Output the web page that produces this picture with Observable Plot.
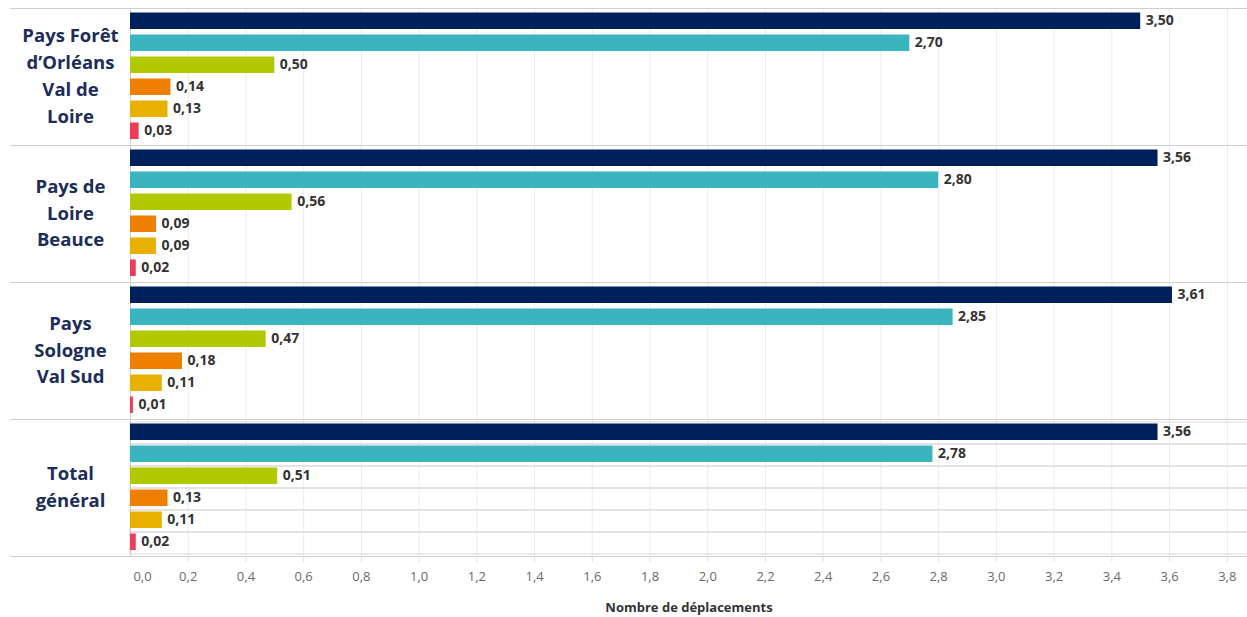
<!DOCTYPE html>
<html>
<head>
<meta charset="utf-8">
<script src="https://cdn.jsdelivr.net/npm/d3@7"></script>
<script src="https://cdn.jsdelivr.net/npm/@observablehq/plot@0.6"></script>
<style>
  body { margin: 0; background: #fff; }
  #chart svg { display: block; }
  g[aria-label="x-axis label"] text { font-weight: bold; fill: #333; }
</style>
</head>
<body>
<div id="chart"></div>
<script>
const groups = ["Pays Forêt d’Orléans Val de Loire", "Pays de Loire Beauce", "Pays Sologne Val Sud", "Total général"];
const groupLabels = ["Pays Forêt\nd’Orléans\nVal de\nLoire", "Pays de\nLoire\nBeauce", "Pays\nSologne\nVal Sud", "Total\ngénéral"];
const series = ["Série 1", "Série 2", "Série 3", "Série 4", "Série 5", "Série 6"];
const seriesColors = ["#00205b", "#3ab4be", "#b2c800", "#ee7f00", "#e8b100", "#ee3e57"];
const valForet = [3.50, 2.70, 0.50, 0.14, 0.13, 0.03];
const valBeauce = [3.56, 2.80, 0.56, 0.09, 0.09, 0.02];
const valSologne = [3.61, 2.85, 0.47, 0.18, 0.11, 0.01];
const valTotal = [3.56, 2.78, 0.51, 0.13, 0.11, 0.02];
const xTicks = [0, 0.2, 0.4, 0.6, 0.8, 1.0, 1.2, 1.4, 1.6, 1.8, 2.0, 2.2, 2.4, 2.6, 2.8, 3.0, 3.2, 3.4, 3.6, 3.8];

const allValues = [valForet, valBeauce, valSologne, valTotal];
const rows = [];
groups.forEach((g, gi) => series.forEach((s, si) => rows.push({group: g, series: s, value: allValues[gi][si]})));
const totalRows = rows.filter(d => d.group === "Total général");
const labelOf = new Map(groups.map((g, i) => [g, groupLabels[i]]));

const fmt1 = d => d3.format(".1f")(d).replace(".", ",");
const fmt2 = d => d3.format(".2f")(d).replace(".", ",");

const chart = Plot.plot({
  width: 1247,
  height: 617,
  marginLeft: 130,
  marginRight: 0,
  marginTop: 7,
  marginBottom: 60,
  style: {fontFamily: "'Open Sans', sans-serif", fontSize: "13px", background: "#fff"},
  x: {domain: [0, 3.87]},
  y: {domain: series, axis: null, padding: 0},
  fy: {domain: groups, axis: null, padding: 0},
  color: {domain: series, range: seriesColors},
  marks: [
    Plot.gridX({ticks: xTicks.slice(1), stroke: "#ebebeb", strokeOpacity: 1}),
    Plot.cell(totalRows, {y: "series", fy: "group", fill: "none", stroke: "#d9d9d9", insetRight: -3}),
    Plot.frame({anchor: "top", stroke: "#cfcfcf", insetLeft: -120}),
    Plot.frame({anchor: "bottom", stroke: "#cfcfcf", insetLeft: -120}),
    Plot.ruleX([0], {stroke: "#d0d0d0"}),
    Plot.barX(rows, {x: "value", y: "series", fy: "group", fill: "series", insetTop: 1.5, insetBottom: 4}),
    Plot.text(rows, {x: "value", y: "series", fy: "group", text: d => fmt2(d.value), dx: 5, dy: -2, textAnchor: "start", fontWeight: "bold", fontSize: 14, fill: "#333"}),
    Plot.text(groups, {fy: d => d, text: d => labelOf.get(d), frameAnchor: "left", dx: -60, dy: -3, textAnchor: "middle", lineHeight: 1.45, fontSize: 18.5, fontWeight: "bold", fill: "#1c2d5a"}),
    Plot.axisX({ticks: xTicks.slice(1), tickFormat: fmt1, tickSize: 6, tickPadding: 9, stroke: "#e0e0e0", fill: "#6b6b6b", fontSize: 13, label: "Nombre de déplacements", labelAnchor: "center", labelArrow: "none", labelOffset: 55}),
    Plot.axisX({ticks: [0], tickFormat: fmt1, tickSize: 0, tickPadding: 15, dx: 12, fill: "#6b6b6b", fontSize: 13, label: null})
  ]
});
document.getElementById("chart").appendChild(chart);
</script>
</body>
</html>
